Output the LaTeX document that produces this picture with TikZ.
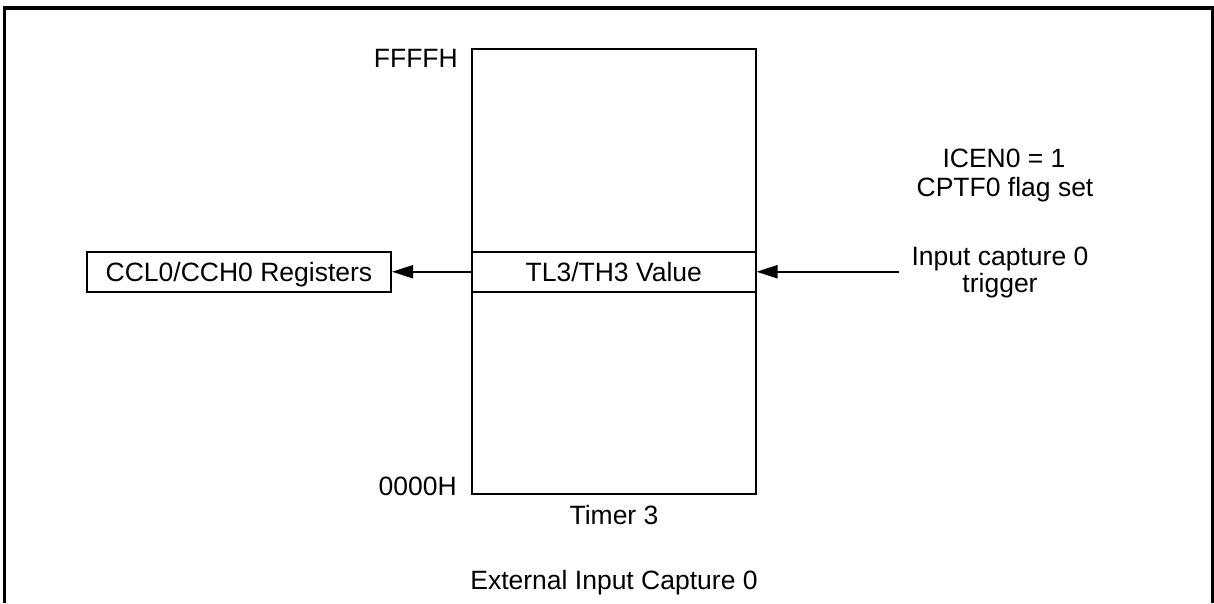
\documentclass[tikz,border=0pt]{standalone}
\usepackage{fontspec}
\setmainfont{Liberation Sans}
\usetikzlibrary{arrows.meta}
\begin{document}
\begin{tikzpicture}[x=1pt,y=-1pt,
  every node/.style={font=\fontsize{26.5}{31}\selectfont, inner sep=0pt},
  frame/.style={line width=3.5pt},
  box/.style={draw, line width=2pt, text height=19pt, text depth=0pt, inner sep=0pt},
  arr/.style={line width=2pt, -{Triangle[length=21pt,width=13pt]}}]
\useasboundingbox (0,0) rectangle (1214,603);
\draw[frame] (4.5,603) -- (4.5,8) -- (1212.5,8) -- (1212.5,603);
\node[box, minimum width=283.5pt, minimum height=445pt] (timer) at (613.75,271.5) {};
\node[box, minimum width=283.5pt, minimum height=40pt] (value) at (613.75,271.75) {TL3/TH3 Value};
\node[box, minimum width=304pt, minimum height=40pt] (ccl) at (239,271.75) {CCL0/CCH0 Registers};
\draw[arr] (value.west) -- (ccl.east);
\coordinate (trig) at (899,271.75);
\draw[arr] (trig) -- (value.east);
\node[anchor=base east] (ffff) at (458,67) {FFFFH};
\node[anchor=base east] (zero) at (457,495) {0000H};
\node[anchor=base] (t3) at (614,524) {Timer 3};
\node[anchor=base] (ext) at (614,589) {External Input Capture 0};
\node[anchor=base] (icen) at (1004,167) {ICEN0 = 1};
\node[anchor=base] (cptf) at (1005,196) {CPTF0 flag set};
\node[anchor=base] (inp) at (1000,265) {Input capture 0};
\node[anchor=base] (trg) at (1000,292) {trigger};
\end{tikzpicture}
\end{document}
